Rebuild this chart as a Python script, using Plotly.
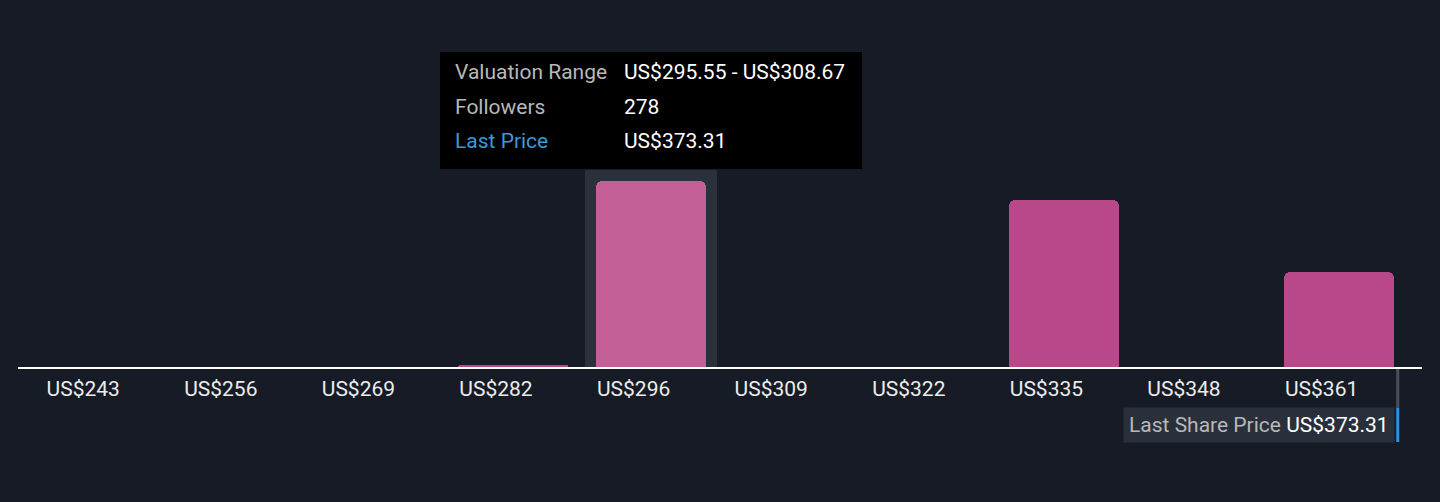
import plotly.graph_objects as go

# ---- data ----
bin_low = [243.07, 256.19, 269.31, 282.43, 295.55, 308.67, 321.79, 334.91, 348.03, 361.15]
bin_step = 13.12
tick_labels = ["US$243", "US$256", "US$269", "US$282", "US$296",
               "US$309", "US$322", "US$335", "US$348", "US$361"]
followers = [0, 0, 0, 3, 278, 0, 0, 250, 0, 142]
last_price = 373.31
hover_idx = 4

BG = "#161b26"
BAR = "#b8488a"
BAR_HOVER = "#c45f97"
FONT = "Roboto"
FS = 21

centers = [b + bin_step / 2 for b in bin_low]
bar_w = bin_step * 0.8
colors = [BAR_HOVER if i == hover_idx else BAR for i in range(len(followers))]

fig = go.Figure()
fig.add_trace(go.Bar(
    x=centers, y=followers, width=bar_w,
    marker=dict(color=colors, cornerradius=6, line=dict(width=0)),
    hoverinfo="skip",
))

W, H = 1440, 502
ml, mr, mt, mb = 18, 18, 0, 135
plot_h = H - mt - mb
ymax = 278 * plot_h / 186.0

def py(px):  # pixel y -> paper y
    return 1 - (px - mt) / plot_h

def pxp(px):  # pixel x -> paper x
    return (px - ml) / (W - ml - mr)

shapes = []
band_half = bin_step * 66 / 137.6
shapes.append(dict(type="rect", xref="x", yref="y", layer="below",
                   x0=centers[hover_idx] - band_half, x1=centers[hover_idx] + band_half,
                   y0=0, y1=followers[hover_idx] * 1.06,
                   fillcolor="#2a313b", line=dict(width=0)))
shapes.append(dict(type="rect", xref="paper", yref="paper", layer="above",
                   x0=pxp(440), x1=pxp(862), y0=py(169), y1=py(52),
                   fillcolor="#000000", line=dict(width=0)))
shapes.append(dict(type="line", xref="x", yref="paper",
                   x0=last_price, x1=last_price, y0=py(369), y1=py(408),
                   line=dict(color="#4a505a", width=3)))
shapes.append(dict(type="line", xref="x", yref="paper",
                   x0=last_price, x1=last_price, y0=py(408), y1=py(442),
                   line=dict(color="#2d8fe0", width=3)))

ann = []
rows = [
    ("Valuation Range", f"US${bin_low[hover_idx]:.2f} - US${bin_low[hover_idx] + bin_step:.2f}", "#b8b8b8", 72),
    ("Followers", f"{followers[hover_idx]}", "#b8b8b8", 107),
    ("Last Price", f"US${last_price:.2f}", "#3b99d9", 141),
]
for lab, val, col, yc in rows:
    ann.append(dict(xref="paper", yref="paper", x=pxp(453), y=py(yc), xanchor="left", yanchor="middle",
                    text=lab, showarrow=False, font=dict(family=FONT, size=FS, color=col)))
    ann.append(dict(xref="paper", yref="paper", x=pxp(622), y=py(yc), xanchor="left", yanchor="middle",
                    text=val, showarrow=False, font=dict(family=FONT, size=FS, color="#ffffff")))

ann.append(dict(xref="x", yref="paper", x=last_price, y=py(425), xanchor="right", yanchor="middle",
                xshift=-3,
                text=f"<span style='color:#b8b8b8'>Last Share Price</span> US${last_price:.2f}",
                showarrow=False, bgcolor="#2a303b", borderpad=5,
                font=dict(family=FONT, size=FS, color="#ffffff")))

x0 = bin_low[0] - bin_step * (31.8 - ml) / 137.6
x1 = bin_low[0] + bin_step * (W - mr - 31.8) / 137.6

fig.update_layout(
    width=W, height=H,
    margin=dict(l=ml, r=mr, t=mt, b=mb),
    paper_bgcolor=BG, plot_bgcolor=BG,
    showlegend=False,
    bargap=0,
    xaxis=dict(range=[x0, x1], showgrid=False, zeroline=False,
               showline=True, linecolor="#ffffff", linewidth=2,
               tickvals=[c - bar_w / 2 for c in centers], ticktext=tick_labels,
               ticklabelposition="outside right", ticks="", ticklabelstandoff=2,
               tickfont=dict(family=FONT, size=FS, color="#ececec")),
    yaxis=dict(range=[0, ymax], visible=False, fixedrange=True),
    shapes=shapes, annotations=ann,
    font=dict(family=FONT),
)

fig.write_html("out.html", config={"displayModeBar": False},
               post_script="document.body.style.margin='0';document.body.style.background='#161b26';")
